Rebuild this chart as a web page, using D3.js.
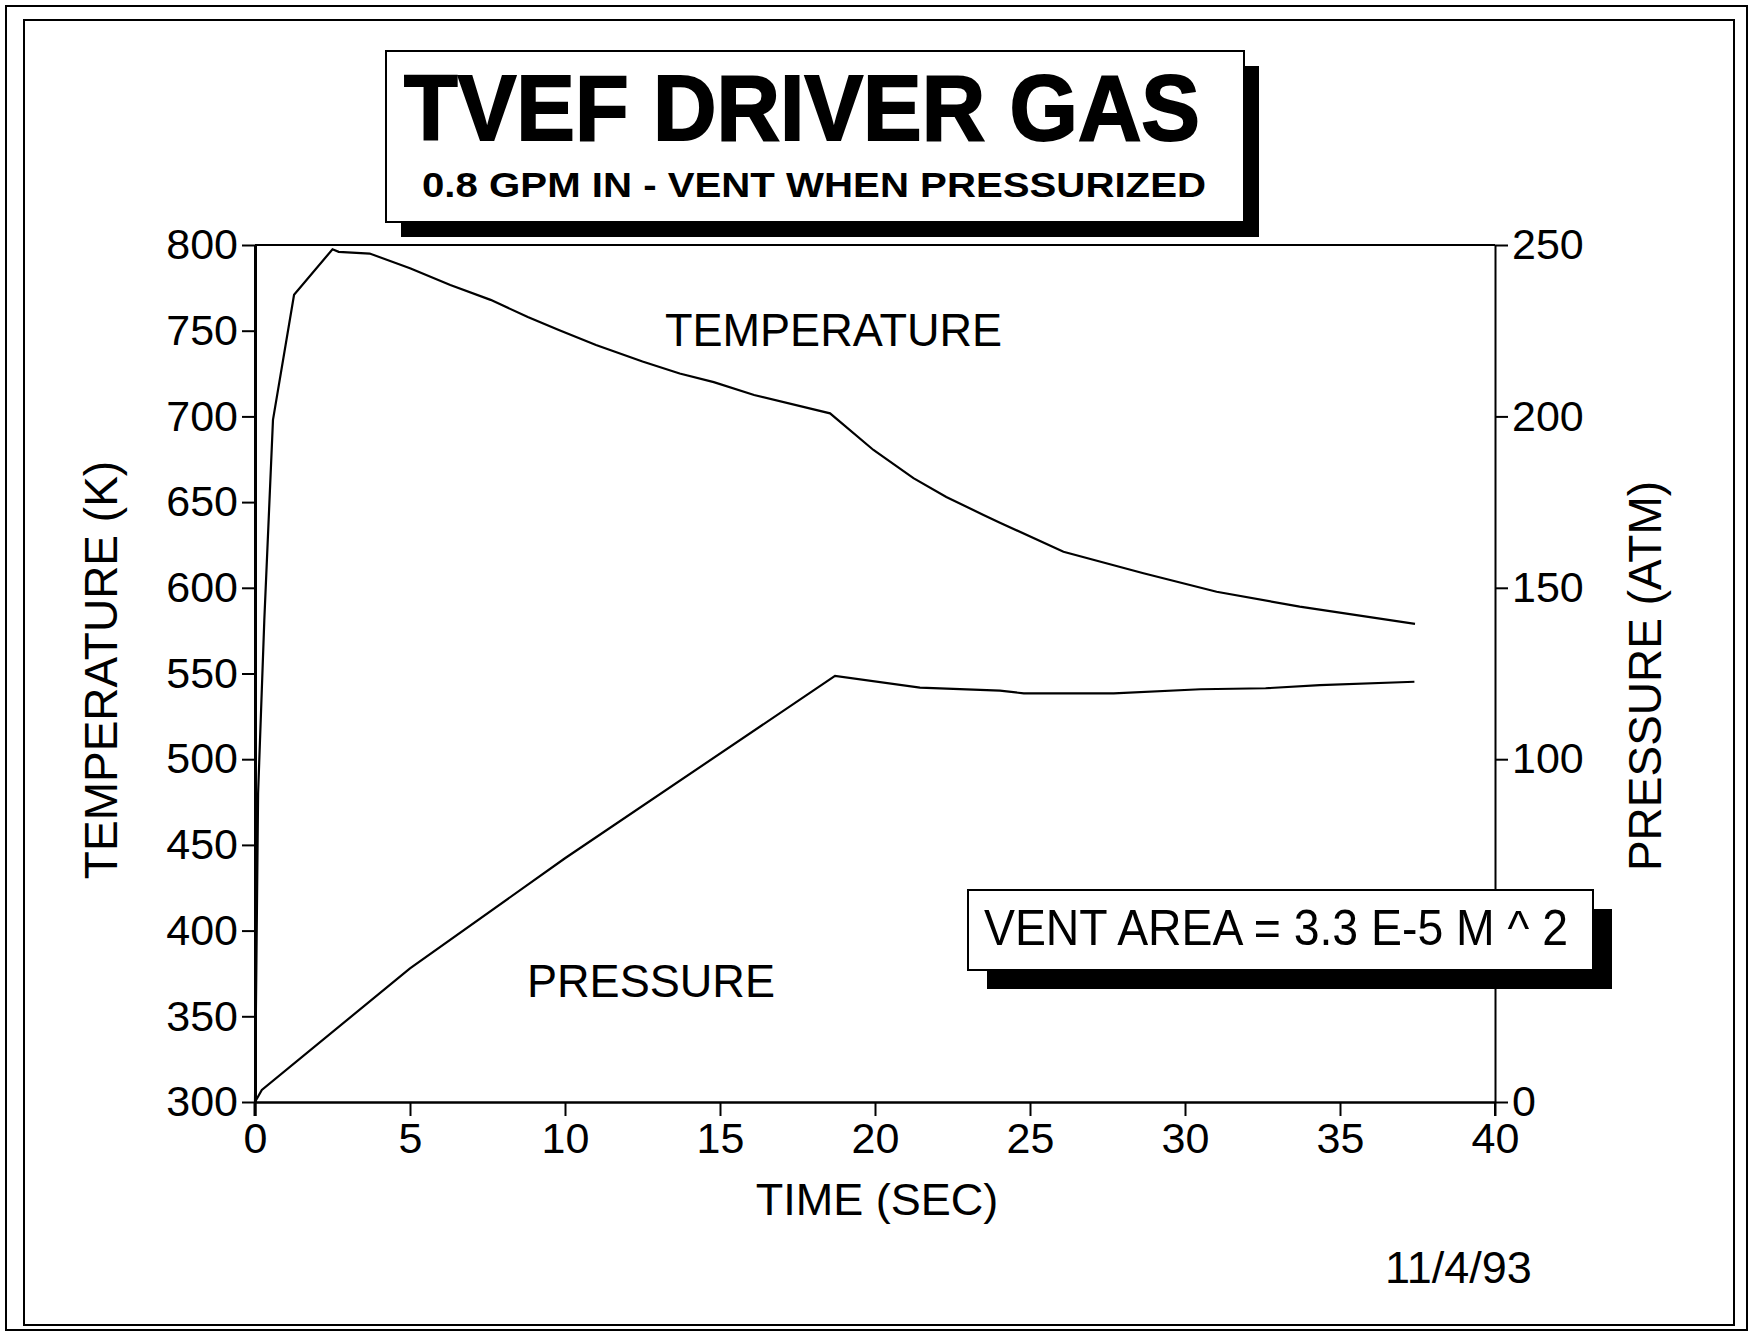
<html>
    <head>
        <title>TVEF Driver Gas</title>
        <script src="https://d3js.org/d3.v7.min.js"></script>
        <style>
            body { margin: 0; background: #fff; }
            text { font-family: "Liberation Sans", Arial, Helvetica, sans-serif; fill: #000; }
            .axis path, .axis line { stroke: #000; }
        </style>
    </head>
    <body>
        <script>
            // values
            var time_temp = [0, 0.1, 0.3, 0.58, 1.26, 2.5, 2.7, 3.7, 5.0, 6.3, 7.6, 8.8, 9.8, 11.0, 12.5, 13.7, 14.8, 16.1, 18.55, 19.95, 21.24, 22.3, 23.5, 24.03, 26.08, 28.66, 31.02, 33.7, 37.42];
            var temp_k = [300, 480, 581, 698, 771, 797.5, 796, 795, 786.4, 776.7, 768, 758, 750.4, 741.7, 732, 725, 720, 712.5, 701.8, 680.4, 664, 653, 642.5, 638, 621, 608.5, 597.7, 589, 579];

            var time_press = [0, 0.22, 5, 10, 18.71, 21.45, 24.03, 24.8, 27.7, 30.5, 32.6, 34.35, 37.4];
            var press_atm = [0, 3.5, 39, 71.1, 124.3, 120.9, 120, 119.2, 119.2, 120.4, 120.7, 121.6, 122.6];

            var time_ticks = [0, 5, 10, 15, 20, 25, 30, 35, 40];
            var temp_ticks = [300, 350, 400, 450, 500, 550, 600, 650, 700, 750, 800];
            var press_ticks = [0, 50, 100, 150, 200, 250];
            // the 50 label sits under the vent area box in the original
            var press_hidden = [50];

            var width = 1751;
            var height = 1332;

            var svg = d3.select('body').append('svg')
                .attr('width', width)
                .attr('height', height);

            // double frame round the page
            svg.append('rect').attr('x', 6).attr('y', 6).attr('width', 1741).attr('height', 1324)
                .attr('fill', 'none').attr('stroke', '#000').attr('stroke-width', 2);
            svg.append('rect').attr('x', 24).attr('y', 20).attr('width', 1710).attr('height', 1305)
                .attr('fill', 'none').attr('stroke', '#000').attr('stroke-width', 2);

            var x = d3.scaleLinear().domain([0, 40]).range([255, 1495]);
            var y_temp = d3.scaleLinear().domain([300, 800]).range([1102, 245]);
            var y_press = d3.scaleLinear().domain([0, 250]).range([1102, 245]);

            // title box with drop shadow
            svg.append('rect').attr('x', 401).attr('y', 66).attr('width', 858).attr('height', 171).attr('fill', '#000');
            svg.append('rect').attr('x', 386).attr('y', 51).attr('width', 858).attr('height', 171)
                .attr('fill', '#fff').attr('stroke', '#000').attr('stroke-width', 2);
            svg.append('text')
                .attr('x', 404).attr('y', 140)
                .attr('font-size', 92).attr('font-weight', 'bold')
                .attr('stroke', '#000').attr('stroke-width', 2)
                .attr('textLength', 796).attr('lengthAdjust', 'spacingAndGlyphs')
                .text('TVEF DRIVER GAS');
            svg.append('text')
                .attr('x', 422).attr('y', 197)
                .attr('font-size', 35).attr('font-weight', 'bold')
                .attr('textLength', 784).attr('lengthAdjust', 'spacingAndGlyphs')
                .text('0.8 GPM IN - VENT WHEN PRESSURIZED');

            // axes
            var x_axis = svg.append('g').attr('class', 'axis')
                .attr('transform', 'translate(0,' + 1102 + ')')
                .call(d3.axisBottom(x).tickValues(time_ticks).tickSize(14).tickSizeOuter(0).tickPadding(6));
            var left_axis = svg.append('g').attr('class', 'axis')
                .attr('transform', 'translate(' + 255 + ',0)')
                .call(d3.axisLeft(y_temp).tickValues(temp_ticks).tickSize(13).tickSizeOuter(0).tickPadding(4));
            var right_axis = svg.append('g').attr('class', 'axis')
                .attr('transform', 'translate(' + 1495 + ',0)')
                .call(d3.axisRight(y_press).tickValues(press_ticks).tickSize(13).tickSizeOuter(0).tickPadding(4)
                    .tickFormat(function (d) { return press_hidden.indexOf(d) >= 0 ? '' : d; }));

            svg.selectAll('.axis text').attr('font-size', 43).style('font-family', '"Liberation Sans", Arial, sans-serif');
            svg.selectAll('.axis line').attr('stroke-width', 2);
            x_axis.select('.domain').attr('stroke-width', 2.5);
            left_axis.select('.domain').attr('stroke-width', 3);
            right_axis.select('.domain').attr('stroke-width', 2);

            // left and right axes run a little below the time axis
            svg.append('line').attr('x1', x(0)).attr('x2', x(0)).attr('y1', 1102).attr('y2', 1116)
                .attr('stroke', '#000').attr('stroke-width', 3);
            svg.append('line').attr('x1', x(40)).attr('x2', x(40)).attr('y1', 1102).attr('y2', 1116)
                .attr('stroke', '#000').attr('stroke-width', 2);
            // top border of the plot
            svg.append('line').attr('x1', x(0)).attr('x2', x(40)).attr('y1', y_temp(800)).attr('y2', y_temp(800))
                .attr('stroke', '#000').attr('stroke-width', 2);

            // curves
            var temp_line = d3.line()
                .x(function (d, i) { return x(time_temp[i]); })
                .y(function (d) { return y_temp(d); });
            var press_line = d3.line()
                .x(function (d, i) { return x(time_press[i]); })
                .y(function (d) { return y_press(d); });

            svg.append('path').datum(temp_k)
                .attr('d', temp_line)
                .attr('fill', 'none').attr('stroke', '#000').attr('stroke-width', 2.2);
            svg.append('path').datum(press_atm)
                .attr('d', press_line)
                .attr('fill', 'none').attr('stroke', '#000').attr('stroke-width', 2.2);

            // curve labels
            svg.append('text').attr('x', 665).attr('y', 346)
                .attr('font-size', 46).attr('textLength', 337).attr('lengthAdjust', 'spacingAndGlyphs')
                .text('TEMPERATURE');
            svg.append('text').attr('x', 527).attr('y', 997)
                .attr('font-size', 46).attr('textLength', 248).attr('lengthAdjust', 'spacingAndGlyphs')
                .text('PRESSURE');

            // axis titles
            svg.append('text')
                .attr('transform', 'translate(117,670) rotate(-90)')
                .attr('text-anchor', 'middle').attr('font-size', 46)
                .text('TEMPERATURE (K)');
            svg.append('text')
                .attr('transform', 'translate(1661,676) rotate(-90)')
                .attr('text-anchor', 'middle').attr('font-size', 46)
                .text('PRESSURE (ATM)');
            svg.append('text')
                .attr('x', 877).attr('y', 1215)
                .attr('text-anchor', 'middle').attr('font-size', 45)
                .text('TIME (SEC)');

            // vent area note with drop shadow
            svg.append('rect').attr('x', 987).attr('y', 909).attr('width', 625).attr('height', 80).attr('fill', '#000');
            svg.append('rect').attr('x', 968).attr('y', 890).attr('width', 625).attr('height', 80)
                .attr('fill', '#fff').attr('stroke', '#000').attr('stroke-width', 2);
            svg.append('text').attr('x', 984).attr('y', 945)
                .attr('font-size', 50).attr('textLength', 584).attr('lengthAdjust', 'spacingAndGlyphs')
                .text('VENT AREA = 3.3 E-5 M ^ 2');

            // date
            svg.append('text').attr('x', 1385).attr('y', 1283)
                .attr('font-size', 45)
                .text('11/4/93');
        </script>
    </body>
</html>
